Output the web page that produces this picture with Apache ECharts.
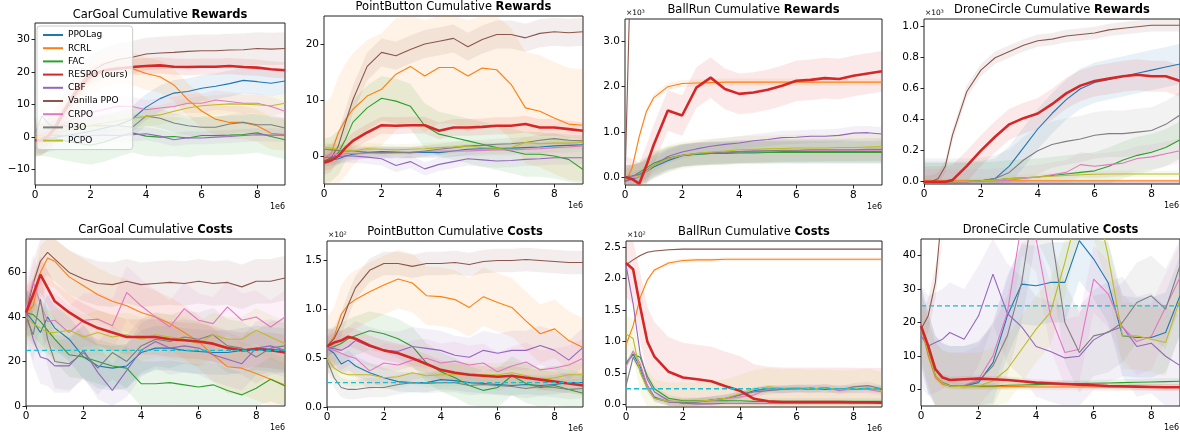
<!DOCTYPE html>
<html>
<head>
<meta charset="utf-8">
<script src="https://cdn.jsdelivr.net/npm/echarts@6/dist/echarts.min.js"></script>
<style>
html, body { margin: 0; padding: 0; background: #fff; }
#chart { width: 1180px; height: 434px; }
</style>
</head>
<body>
<div id="chart"></div>
<script>
var FONT = 'DejaVu Sans';
var methods = ['PPOLag', 'RCRL', 'FAC', 'RESPO (ours)', 'CBF', 'Vanilla PPO', 'CRPO', 'P3O', 'PCPO'];
var colors = ['#1f77b4', '#ff7f0e', '#2ca02c', '#d62728', '#9467bd', '#8c564b', '#e377c2', '#7f7f7f', '#bcbd22'];

// env steps, x 1e6
var steps = [0, 0.25, 0.5, 0.75, 1, 1.5, 2, 2.5, 3, 3.5, 4, 4.5, 5, 5.5, 6, 6.5, 7, 7.5, 8, 8.5, 9];
var xTicks = [0, 2, 4, 6, 8];

// rows follow the methods order
var carGoalRewards = [
    [-1, -1, -0.5, 0, 0.3, 1, 1.8, 2.8, 3.8, 5.5, 9.2, 11.8, 13.5, 14, 15, 15.6, 16.4, 17.4, 17, 16.5, 17.2],
    [-0.5, -0.5, 1, 3.5, 7, 13, 18, 20.5, 21.5, 21, 19.5, 18.5, 16, 11.5, 8, 5.5, 4.5, 4.5, 3.5, 1.2, 0.8],
    [0, 0.2, 0, -0.5, -1, -1.8, -2.5, -1.5, 0, 1.3, 0.3, 0, 0.2, -0.3, 0.5, 0.5, 0.6, 0.8, 1.3, 0.2, -0.8],
    [-1, -1, 0.5, 3, 7, 14, 19, 20.5, 21, 21.5, 21.8, 22, 21.6, 21.5, 21.6, 21.6, 21.8, 21.5, 21.3, 20.8, 20.5],
    [0.5, 0.4, 0.5, 0.6, 0.5, 0.4, 0.5, 0.6, 0.5, 0.7, 1, 0.3, -0.8, -0.2, -0.3, 0, 0.2, 0.5, 0.7, 0.6, 0.6],
    [-1, -0.5, 1, 4, 8, 15, 20, 22.5, 23.8, 24.5, 25.5, 25.8, 26, 26.3, 26.5, 26.5, 26.7, 26.8, 27.2, 27, 27.2],
    [1, 1, 1.5, 2.5, 4, 6, 7.5, 8.5, 9.5, 9.4, 8.4, 8.9, 9.4, 10.4, 10.4, 11.4, 10.9, 10.4, 10.4, 9.4, 7.9],
    [1, 6.5, 4, 3, 3.5, 3, 3.5, 3.5, 3.5, 3, 6.5, 5.8, 4.3, 3.5, 3, 3, 4, 4.5, 3.8, 3.8, 2.8],
    [0, 0.3, 0.8, 1.2, 1.8, 2.8, 3.6, 4.3, 5, 5.8, 6.3, 6.8, 7.9, 8.9, 9.6, 9.9, 10.2, 10.1, 9.9, 9.6, 10.4]
];
var carGoalRewardsSpread = [4, 5, 6, 2.5, 2, 5, 3, 3, 3];

var pointButtonRewards = [
    [-0.9, -0.7, -0.5, 0, 0.3, 0.6, 0.8, 0.7, 0.6, 0.7, 0.6, 0.9, 1.2, 1.3, 1.3, 1.4, 1.5, 1.6, 1.8, 1.9, 2],
    [-0.6, 0.5, 4.2, 6.5, 8.3, 10.7, 11.9, 14.6, 16, 14.3, 15.8, 15.8, 14.3, 15.7, 15.4, 12.8, 8.6, 8, 6.8, 5.7, 5.5],
    [-0.9, -0.5, 0.6, 3, 6, 8.6, 10.3, 9.8, 8.9, 5.4, 3.9, 3.3, 2.7, 2.1, 1.5, 0.9, 0.3, 0.3, 0, -0.6, -2.4],
    [-1.2, -0.8, 0, 1.5, 2.7, 4.2, 5.5, 5.4, 5.5, 5.5, 4.5, 5.1, 5.1, 5.2, 5.4, 5.4, 5.7, 5.1, 5.1, 4.8, 4.5],
    [-0.3, -0.2, -0.1, 0, 0, -0.2, -0.5, -1.7, -1, -2.3, -1.5, -1, -0.5, -0.7, -0.9, -0.8, -0.6, -0.5, -0.3, -0.3, -0.3],
    [-0.9, -0.3, 1.8, 6, 10, 16, 18.5, 17.9, 19, 20, 20.5, 21, 19.5, 20.8, 21.7, 21.7, 21.1, 21.9, 22.2, 22, 22.2],
    [0, 0.2, 0.3, 0.4, 0.5, 0.5, 0.5, 0.6, 0.7, 0.8, 0.9, 0.9, 0.9, 1, 1.1, 1.1, 1.2, 1.3, 1.5, 1.6, 1.8],
    [1.2, 1.1, 1, 0.9, 0.9, 0.7, 0.6, 0.6, 0.6, 0.9, 1.2, 1.5, 1.8, 1.9, 2.1, 2.2, 2.4, 2.8, 3.1, 2.8, 2.7],
    [1.5, 1.4, 1.2, 1, 0.9, 1.3, 1.2, 1.1, 1.2, 1.3, 1.5, 1.6, 1.8, 1.5, 1.4, 1.5, 2.4, 2.2, 2.3, 2.3, 2.4]
];
var pointButtonRewardsSpread = [1, 10, 4, 1.5, 1.2, 2.5, 1, 1, 1];

// x 10^3
var ballRunRewards = [
    [0, 0.02, 0.05, 0.12, 0.22, 0.36, 0.47, 0.5, 0.52, 0.53, 0.55, 0.55, 0.55, 0.56, 0.56, 0.56, 0.56, 0.56, 0.56, 0.56, 0.56],
    [-0.15, 0.2, 0.9, 1.45, 1.75, 2.0, 2.07, 2.08, 2.09, 2.1, 2.1, 2.1, 2.1, 2.1, 2.1, 2.1, 2.1, 2.1, 2.1, 2.1, 2.1],
    [-0.1, 0, 0.1, 0.2, 0.3, 0.42, 0.48, 0.5, 0.52, 0.52, 0.53, 0.53, 0.54, 0.54, 0.54, 0.54, 0.54, 0.54, 0.54, 0.54, 0.54],
    [0, -0.05, -0.15, 0.25, 0.7, 1.47, 1.36, 1.98, 2.2, 1.95, 1.84, 1.87, 1.93, 2.02, 2.13, 2.15, 2.19, 2.17, 2.24, 2.29, 2.34],
    [-0.1, -0.05, 0, 0.12, 0.25, 0.45, 0.55, 0.62, 0.68, 0.72, 0.75, 0.8, 0.83, 0.87, 0.88, 0.9, 0.9, 0.92, 0.97, 0.98, 0.95],
    [-0.1, 6, 8, 8, 8, 8, 8, 8, 8, 8, 8, 8, 8, 8, 8, 8, 8, 8, 8, 8, 8],
    [0, 0.01, 0.05, 0.15, 0.25, 0.4, 0.48, 0.52, 0.54, 0.55, 0.56, 0.57, 0.57, 0.58, 0.58, 0.58, 0.58, 0.58, 0.58, 0.58, 0.58],
    [0, 0.02, 0.06, 0.15, 0.25, 0.4, 0.48, 0.52, 0.53, 0.55, 0.56, 0.57, 0.58, 0.59, 0.59, 0.6, 0.6, 0.6, 0.6, 0.61, 0.61],
    [-0.05, -0.02, 0, 0.12, 0.25, 0.4, 0.48, 0.52, 0.55, 0.57, 0.6, 0.61, 0.62, 0.63, 0.64, 0.64, 0.64, 0.65, 0.65, 0.66, 0.67]
];
var ballRunRewardsSpread = [0.25, 0.08, 0.25, 0.45, 0.15, 0.3, 0.25, 0.25, 0.3];

// x 10^3
var droneCircleRewards = [
    [0, 0, 0, 0, 0, 0, 0.005, 0.02, 0.1, 0.22, 0.34, 0.44, 0.53, 0.6, 0.64, 0.66, 0.68, 0.7, 0.72, 0.74, 0.76],
    [0.005, 0.005, 0.005, 0.005, 0.005, 0.005, 0.005, 0.005, 0.005, 0.005, 0.005, 0.005, 0.005, 0.005, 0.005, 0.005, 0.005, 0.005, 0.005, 0.005, 0.005],
    [0, 0, 0, 0, 0, 0.002, 0.005, 0.01, 0.02, 0.025, 0.03, 0.04, 0.05, 0.06, 0.07, 0.1, 0.14, 0.17, 0.19, 0.22, 0.27],
    [0, 0, 0, 0, 0.01, 0.1, 0.2, 0.29, 0.37, 0.41, 0.44, 0.5, 0.57, 0.62, 0.65, 0.665, 0.68, 0.69, 0.68, 0.68, 0.65],
    [-0.01, -0.01, -0.01, -0.01, -0.01, -0.01, -0.01, -0.01, -0.01, -0.01, -0.01, -0.01, -0.01, -0.01, -0.01, -0.01, -0.01, -0.01, -0.01, -0.01, -0.01],
    [0, 0, 0.02, 0.1, 0.3, 0.58, 0.72, 0.8, 0.84, 0.88, 0.91, 0.92, 0.94, 0.95, 0.96, 0.98, 0.99, 1.0, 1.01, 1.01, 1.01],
    [0, 0, 0, 0, 0, 0, 0.002, 0.005, 0.01, 0.02, 0.03, 0.045, 0.06, 0.11, 0.1, 0.11, 0.12, 0.15, 0.16, 0.18, 0.2],
    [0, 0, 0, 0, 0, 0, 0.005, 0.02, 0.06, 0.14, 0.2, 0.24, 0.26, 0.275, 0.3, 0.31, 0.31, 0.32, 0.33, 0.37, 0.43],
    [0, 0, 0, 0, 0, 0.002, 0.005, 0.01, 0.02, 0.025, 0.03, 0.035, 0.04, 0.045, 0.048, 0.05, 0.05, 0.05, 0.05, 0.05, 0.05]
];
var droneCircleRewardsSpread = [0.13, 0.01, 0.12, 0.1, 0.01, 0.04, 0.08, 0.15, 0.02];

var carGoalCosts = [
    [42, 38, 33, 40, 35, 30, 22, 18, 17, 18, 24, 26, 26, 25, 24.5, 24, 24, 25, 26, 25.5, 25],
    [42, 45, 60, 66.5, 65, 58, 54, 50, 47, 45, 42, 40, 37, 33, 28.8, 23, 17.6, 17, 14.6, 12, 9.4],
    [42, 41, 38, 34, 30, 23, 22, 20, 18, 17, 10, 10, 10.5, 9.5, 8.5, 9.5, 7, 5, 8, 12, 9],
    [42, 50, 59, 53, 47, 42, 38, 35, 33, 31, 31, 31, 30, 29.5, 29, 28, 26, 25, 25.5, 25, 24],
    [42, 30, 22, 21, 18, 18, 25, 15, 7, 16, 25, 29, 26, 27, 26, 23, 21, 19, 26, 27, 25],
    [42, 55, 65, 69, 66, 60, 57, 55, 54.5, 56, 54.5, 55, 55.5, 55, 56, 55, 55.5, 53.5, 56, 56, 57.5],
    [44, 56, 46, 38, 38.5, 33, 38.5, 39, 36, 51, 45, 40, 35.5, 43.7, 38.5, 37, 44.5, 38.5, 40, 35.5, 40],
    [40, 32, 48, 30, 20, 19, 24, 17, 24, 20, 27, 30, 29, 31, 30, 32, 27, 26, 22, 26, 27],
    [40, 37, 35, 33, 33, 34, 31, 33, 31, 32, 30, 32, 31, 30, 28, 32, 30, 30, 34, 31, 28]
];
var carGoalCostsSpread = [10, 12, 10, 8, 12, 10, 12, 12, 10];

// x 10^2
var pointButtonCosts = [
    [0.6, 0.55, 0.44, 0.48, 0.42, 0.35, 0.3, 0.26, 0.25, 0.25, 0.28, 0.27, 0.25, 0.24, 0.23, 0.22, 0.23, 0.22, 0.23, 0.25, 0.25],
    [0.62, 0.72, 0.95, 1.05, 1.1, 1.18, 1.25, 1.31, 1.27, 1.14, 1.13, 1.1, 1.02, 1.13, 1.07, 1.02, 0.88, 0.75, 0.8, 0.68, 0.61],
    [0.6, 0.62, 0.65, 0.7, 0.73, 0.78, 0.75, 0.7, 0.62, 0.45, 0.36, 0.3, 0.22, 0.17, 0.2, 0.32, 0.24, 0.2, 0.22, 0.18, 0.14],
    [0.62, 0.66, 0.68, 0.72, 0.7, 0.63, 0.58, 0.55, 0.5, 0.44, 0.38, 0.35, 0.33, 0.32, 0.31, 0.32, 0.3, 0.28, 0.26, 0.24, 0.22],
    [0.6, 0.6, 0.58, 0.62, 0.68, 0.62, 0.58, 0.57, 0.62, 0.6, 0.58, 0.53, 0.51, 0.58, 0.55, 0.58, 0.58, 0.63, 0.58, 0.48, 0.61],
    [0.62, 0.7, 0.85, 1.05, 1.22, 1.4, 1.47, 1.47, 1.44, 1.47, 1.47, 1.48, 1.46, 1.49, 1.5, 1.5, 1.51, 1.5, 1.49, 1.48, 1.48],
    [0.6, 0.58, 0.55, 0.52, 0.5, 0.37, 0.45, 0.43, 0.48, 0.5, 0.45, 0.47, 0.43, 0.45, 0.36, 0.42, 0.46, 0.38, 0.4, 0.43, 0.5],
    [0.48, 0.3, 0.2, 0.18, 0.18, 0.2, 0.2, 0.23, 0.25, 0.24, 0.25, 0.25, 0.22, 0.23, 0.22, 0.21, 0.19, 0.21, 0.2, 0.18, 0.19],
    [0.5, 0.4, 0.35, 0.33, 0.33, 0.33, 0.3, 0.31, 0.35, 0.32, 0.33, 0.33, 0.34, 0.33, 0.33, 0.35, 0.32, 0.28, 0.3, 0.33, 0.33]
];
var pointButtonCostsSpread = [0.1, 0.3, 0.2, 0.1, 0.2, 0.12, 0.2, 0.1, 0.12];

// x 10^2
var ballRunCosts = [
    [0.65, 0.8, 0.6, 0.3, 0.12, 0.04, 0.03, 0.04, 0.07, 0.1, 0.15, 0.22, 0.25, 0.24, 0.25, 0.26, 0.24, 0.25, 0.24, 0.25, 0.24],
    [0.95, 1.25, 1.7, 1.98, 2.14, 2.25, 2.29, 2.3, 2.3, 2.31, 2.31, 2.31, 2.31, 2.31, 2.31, 2.31, 2.31, 2.31, 2.31, 2.31, 2.31],
    [0.65, 0.8, 0.75, 0.45, 0.25, 0.1, 0.06, 0.06, 0.06, 0.06, 0.06, 0.05, 0.05, 0.05, 0.05, 0.05, 0.05, 0.05, 0.05, 0.05, 0.05],
    [2.25, 2.15, 1.55, 1.0, 0.76, 0.52, 0.43, 0.4, 0.37, 0.29, 0.22, 0.09, 0.05, 0.04, 0.04, 0.04, 0.04, 0.04, 0.035, 0.035, 0.03],
    [2.22, 1.6, 0.8, 0.4, 0.2, 0.06, 0.02, 0.01, 0.01, 0.02, 0.02, 0.02, 0.02, 0.02, 0.02, 0.02, 0.02, 0.02, 0.02, 0.02, 0.02],
    [2.22, 2.3, 2.37, 2.42, 2.44, 2.46, 2.47, 2.47, 2.47, 2.47, 2.47, 2.47, 2.47, 2.47, 2.47, 2.47, 2.47, 2.47, 2.47, 2.47, 2.47],
    [0.6, 0.85, 0.65, 0.3, 0.1, 0.04, 0.03, 0.04, 0.06, 0.09, 0.12, 0.15, 0.25, 0.24, 0.25, 0.24, 0.27, 0.22, 0.25, 0.24, 0.2],
    [0.3, 0.75, 0.55, 0.25, 0.1, 0.04, 0.03, 0.04, 0.07, 0.1, 0.15, 0.2, 0.22, 0.24, 0.26, 0.24, 0.27, 0.23, 0.28, 0.3, 0.25],
    [1.12, 1.05, 0.5, 0.25, 0.1, 0.05, 0.05, 0.05, 0.07, 0.1, 0.17, 0.25, 0.28, 0.26, 0.27, 0.25, 0.26, 0.24, 0.25, 0.27, 0.22]
];
var ballRunCostsSpread = [0.06, 0.03, 0.05, 0.55, 0.03, 0.01, 0.06, 0.06, 0.3];

var droneCircleCosts = [
    [19, 11, 4, 1.8, 1, 1, 2, 8, 22, 31.5, 31, 32, 32, 44.5, 39, 32, 16, 15.5, 15.5, 17, 28],
    [19, 10, 3.5, 1.5, 1, 0.8, 0.8, 0.8, 0.8, 0.8, 0.7, 0.7, 0.7, 0.7, 0.7, 0.6, 0.6, 0.6, 0.6, 0.6, 0.6],
    [19, 11, 4, 2, 1.2, 1, 1, 1, 1.2, 1.3, 1.4, 1.5, 1.6, 1.7, 1.8, 1.9, 2, 2.1, 2.2, 2.3, 2.4],
    [19, 13, 6, 3.5, 2.8, 3, 3.2, 3, 2.8, 2.4, 2, 1.8, 1.6, 1.4, 1.2, 1, 0.9, 0.8, 0.7, 0.6, 0.6],
    [16, 13, 14, 15, 17, 15, 22, 34.5, 22.7, 18.7, 12.8, 11.3, 9.4, 9.9, 14.8, 17.2, 18.7, 12.8, 13.8, 9.9, 7.1],
    [18, 22, 32, 55, 80, 100, 100, 100, 100, 100, 100, 100, 100, 100, 100, 100, 100, 100, 100, 100, 100],
    [19, 11, 4, 1.8, 1, 1.2, 3, 10, 23, 50, 45, 22, 11, 12, 33, 28.6, 18.7, 14.3, 15.8, 24.6, 33.5],
    [19, 11, 4, 1.8, 1, 1, 2.5, 7, 16, 32, 60, 48, 20, 11, 16, 17, 20, 26, 28, 24, 37],
    [19, 11, 4, 1.8, 1, 0.8, 1, 2.5, 6, 12, 18, 23, 38, 55, 60, 40, 16, 16, 15, 14, 27]
];
var droneCircleCostsSpread = [12, 1, 1, 1, 15, 5, 10, 12, 10];

var carGoalRewardTicks = [-10, 0, 10, 20, 30];
var pointButtonRewardTicks = [0, 10, 20];
var ballRunRewardTicks = [0, 1, 2, 3];
var droneCircleRewardTicks = [0, 0.2, 0.4, 0.6, 0.8, 1.0];
var carGoalCostTicks = [0, 20, 40, 60];
var pointButtonCostTicks = [0, 0.5, 1.0, 1.5];
var ballRunCostTicks = [0, 0.5, 1.0, 1.5, 2.0, 2.5];
var droneCircleCostTicks = [0, 10, 20, 30, 40];
var costLimit = [25, 0.25, 0.25, 25];

// layout of each panel: plot box [left, top, width, height]
var panels = [
    {env: 'CarGoal', kind: 'Rewards', box: [35, 23, 250, 162], means: carGoalRewards, spread: carGoalRewardsSpread, y: [-14.7, 35], ticks: carGoalRewardTicks, dec: 0, titleY: 15, expo: null},
    {env: 'PointButton', kind: 'Rewards', box: [324, 16, 259, 168], means: pointButtonRewards, spread: pointButtonRewardsSpread, y: [-5, 25], ticks: pointButtonRewardTicks, dec: 0, titleY: 7.5, expo: null},
    {env: 'BallRun', kind: 'Rewards', box: [625, 19, 257, 166], means: ballRunRewards, spread: ballRunRewardsSpread, y: [-0.18, 3.5], ticks: ballRunRewardTicks, dec: 1, titleY: 10, expo: '\u00d710\u00b3'},
    {env: 'DroneCircle', kind: 'Rewards', box: [924, 19, 256, 165], means: droneCircleRewards, spread: droneCircleRewardsSpread, y: [-0.015, 1.05], ticks: droneCircleRewardTicks, dec: 1, titleY: 10, expo: '\u00d710\u00b3'},
    {env: 'CarGoal', kind: 'Costs', box: [26, 239, 259, 167], means: carGoalCosts, spread: carGoalCostsSpread, y: [0, 75], ticks: carGoalCostTicks, dec: 0, titleY: 230, expo: null, limit: costLimit[0]},
    {env: 'PointButton', kind: 'Costs', box: [327, 241, 256, 166], means: pointButtonCosts, spread: pointButtonCostsSpread, y: [0, 1.7], ticks: pointButtonCostTicks, dec: 1, titleY: 232, expo: '\u00d710\u00b2', limit: costLimit[1]},
    {env: 'BallRun', kind: 'Costs', box: [626, 241, 256, 166], means: ballRunCosts, spread: ballRunCostsSpread, y: [-0.04, 2.6], ticks: ballRunCostTicks, dec: 1, titleY: 232, expo: '\u00d710\u00b2', limit: costLimit[2]},
    {env: 'DroneCircle', kind: 'Costs', box: [921, 239, 259, 167], means: droneCircleCosts, spread: droneCircleCostsSpread, y: [-5, 45], ticks: droneCircleCostTicks, dec: 0, titleY: 230, expo: null, limit: costLimit[3]}
];

function fmt(dec) {
    return function (v) {
        var s = dec ? v.toFixed(dec) : String(Math.round(v));
        return s.replace('-', '\u2212');
    };
}

// shaded mean +- spread, drawn as one polygon
function bandSeries(gi, mean, spread, color) {
    return {
        type: 'custom',
        xAxisIndex: gi,
        yAxisIndex: gi,
        silent: true,
        z: 1,
        data: [[steps[0], mean[0]]],
        renderItem: function (params, api) {
            var pts = [];
            for (var i = 0; i < steps.length; i++) pts.push(api.coord([steps[i], mean[i] + spread]));
            for (var j = steps.length - 1; j >= 0; j--) pts.push(api.coord([steps[j], mean[j] - spread]));
            var cs = params.coordSys;
            pts = echarts.graphic.clipPointsByRect(pts, {x: cs.x, y: cs.y, width: cs.width, height: cs.height});
            return {type: 'polygon', shape: {points: pts}, style: {fill: color, opacity: 0.1}};
        }
    };
}

var grids = [], xAxes = [], yAxes = [], series = [], graphics = [];

panels.forEach(function (p, gi) {
    var b = p.box;
    grids.push({left: b[0], top: b[1], width: b[2], height: b[3], show: true, borderColor: '#222', borderWidth: 1, backgroundColor: 'transparent'});
    xAxes.push({
        type: 'value', gridIndex: gi, min: 0, max: 9,
        axisLine: {show: false, onZero: false},
        splitLine: {show: false},
        axisTick: {show: true, inside: false, length: 3.5, lineStyle: {color: '#222'}, customValues: xTicks},
        axisLabel: {customValues: xTicks, color: '#000', fontSize: 10.5, margin: 5, fontFamily: FONT, formatter: fmt(0)}
    });
    yAxes.push({
        type: 'value', gridIndex: gi, min: p.y[0], max: p.y[1],
        axisLine: {show: false, onZero: false},
        splitLine: {show: false},
        axisTick: {show: true, inside: false, length: 3.5, lineStyle: {color: '#222'}, customValues: p.ticks},
        axisLabel: {customValues: p.ticks, color: '#000', fontSize: 10.5, margin: 5, fontFamily: FONT, formatter: fmt(p.dec)}
    });

    p.means.forEach(function (m, k) {
        series.push(bandSeries(gi, m, p.spread[k], colors[k]));
    });
    p.means.forEach(function (m, k) {
        series.push({
            type: 'line', name: methods[k], xAxisIndex: gi, yAxisIndex: gi,
            data: steps.map(function (x, i) { return [x, m[i]]; }),
            symbol: 'none', silent: true, z: k === 3 ? 4 : 3,
            lineStyle: {color: colors[k], width: k === 3 ? 2.6 : 1.1},
            itemStyle: {color: colors[k]}
        });
    });
    if (p.limit != null) {
        series.push({
            type: 'line', name: 'limit', xAxisIndex: gi, yAxisIndex: gi,
            data: [[0, p.limit], [9, p.limit]],
            symbol: 'none', silent: true, z: 5,
            lineStyle: {color: '#17becf', width: 1.3, type: [5, 3]}
        });
    }

    var cx = b[0] + b[2] / 2;
    graphics.push({
        type: 'text', x: cx, y: p.titleY, silent: true,
        style: {
            text: '{n|' + p.env + ' Cumulative }{b|' + p.kind + '}',
            align: 'center', verticalAlign: 'middle',
            rich: {
                n: {fontSize: 11.5, fontFamily: FONT, fill: '#000'},
                b: {fontSize: 11.5, fontFamily: FONT, fontWeight: 'bold', fill: '#000'}
            }
        }
    });
    graphics.push({
        type: 'text', x: Math.min(b[0] + b[2], 1179), y: b[1] + b[3] + 22, silent: true,
        style: {text: '1e6', align: 'right', verticalAlign: 'middle', fontSize: 8, fontFamily: FONT, fill: '#000'}
    });
    if (p.expo) {
        graphics.push({
            type: 'text', x: b[0] + 1, y: b[1] - 6, silent: true,
            style: {text: p.expo, align: 'left', verticalAlign: 'middle', fontSize: 7.5, fontFamily: FONT, fill: '#000'}
        });
    }
});

var chart = echarts.init(document.getElementById('chart'));
chart.setOption({
    animation: false,
    grid: grids,
    xAxis: xAxes,
    yAxis: yAxes,
    legend: {
        data: methods,
        orient: 'vertical',
        left: 37, top: 26, z: 10,
        padding: [4, 5],
        itemWidth: 20, itemHeight: 10, itemGap: 3.2,
        itemStyle: {color: 'rgba(0,0,0,0)', borderColor: 'rgba(0,0,0,0)', borderWidth: 0},
        backgroundColor: 'rgba(255,255,255,0.8)',
        borderColor: '#cccccc', borderWidth: 1, borderRadius: 3,
        textStyle: {fontSize: 9, fontFamily: FONT, color: '#000', lineHeight: 10},
        selectedMode: false
    },
    series: series,
    graphic: graphics
});
</script>
